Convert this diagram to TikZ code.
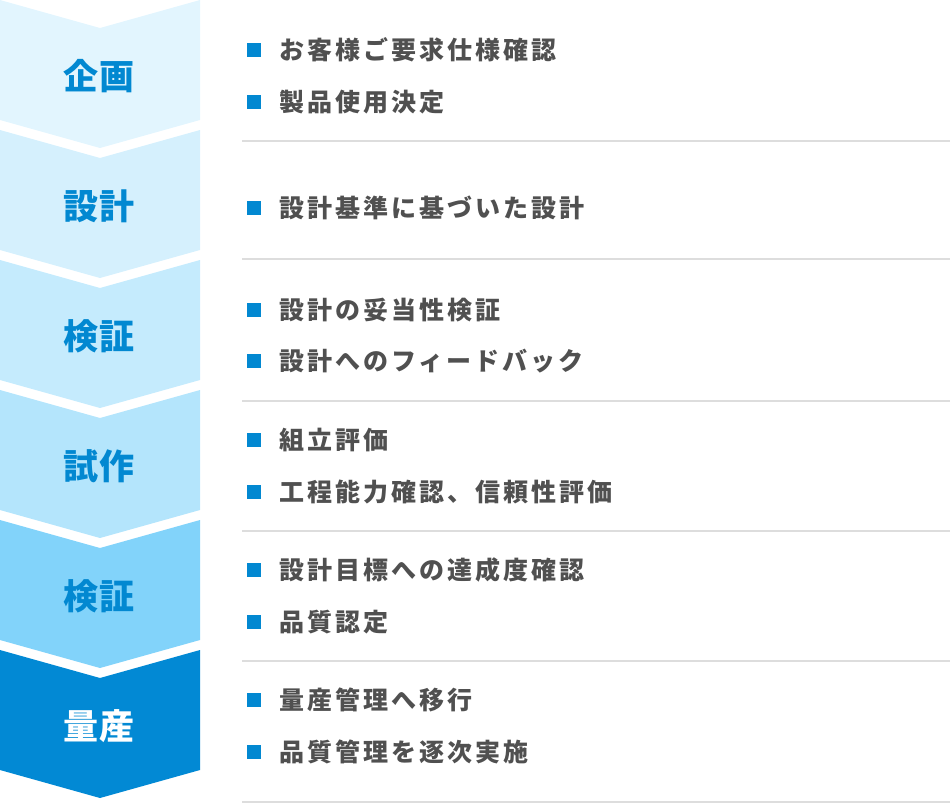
\documentclass[tikz,border=0pt]{standalone}
\usepackage{fontspec}
\newfontfamily\stepfont{Noto Sans CJK JP}[LetterSpace=3]
\newfontfamily\itemfont{Noto Sans CJK JP}[LetterSpace=12]

\definecolor{stepA}{HTML}{E2F5FE}
\definecolor{stepB}{HTML}{D5F0FD}
\definecolor{stepC}{HTML}{C5EBFD}
\definecolor{stepD}{HTML}{B4E5FC}
\definecolor{stepE}{HTML}{82D3FA}
\definecolor{stepF}{HTML}{0289D4}
\definecolor{accent}{HTML}{0288D1}
\definecolor{itemgray}{HTML}{505050}
\definecolor{rulegray}{HTML}{DDDDDD}

\tikzset{
    steplabel/.style={inner sep=0pt, text=accent, font=\stepfont\bfseries\fontsize{35}{35}\selectfont},
    item/.style={inner sep=0pt, anchor=west, text=itemgray, font=\itemfont\bfseries\fontsize{25}{25}\selectfont},
    bullet/.style={inner sep=0pt, minimum size=14pt, fill=accent},
    separator/.style={rulegray, line width=2pt},
}

\begin{document}
\begin{tikzpicture}[x=1pt, y=-1pt]

    \def\w{200}         % Width of the step column
    \def\h{120}         % Height of one step at its sides
    \def\tip{28}        % Depth of the chevron point
    \def\pitch{130}     % Distance from one step to the next
    \def\bx{253.5}      % Centre of the bullets
    \def\tx{279}        % Left edge of the item texts

    \useasboundingbox (0,0) rectangle (950,804);

    % Chevrons, lightest at the top
    \foreach \i/\col in {0/stepA, 1/stepB, 2/stepC, 3/stepD, 4/stepE, 5/stepF} {
        \fill[\col] (0,\i*\pitch) -- ++(\w/2,\tip) -- ++(\w/2,-\tip) -- ++(0,\h)
            -- ++(-\w/2,\tip) -- ++(-\w/2,-\tip) -- cycle;
    }

    % Step names
    \node[steplabel] (plan)    at (99,76)  {企画};
    \node[steplabel] (design)  at (99,206) {設計};
    \node[steplabel] (verify)  at (99,336) {検証};
    \node[steplabel] (proto)   at (99,466) {試作};
    \node[steplabel] (check)   at (99,596) {検証};
    \node[steplabel, text=white] (mass) at (99,726) {量産};

    % Items of each step
    \node[bullet] (planAb) at (\bx,50)  {};  \node[item] (planA) at (\tx,50)  {お客様ご要求仕様確認};
    \node[bullet] (planBb) at (\bx,102) {};  \node[item] (planB) at (\tx,102) {製品使用決定};

    \node[bullet] (designAb) at (\bx,208) {};  \node[item] (designA) at (\tx,208) {設計基準に基づいた設計};

    \node[bullet] (verifyAb) at (\bx,310) {};  \node[item] (verifyA) at (\tx,310) {設計の妥当性検証};
    \node[bullet] (verifyBb) at (\bx,361) {};  \node[item] (verifyB) at (\tx,361) {設計へのフィードバック};

    \node[bullet] (protoAb) at (\bx,440) {};  \node[item] (protoA) at (\tx,440) {組立評価};
    \node[bullet] (protoBb) at (\bx,492) {};  \node[item] (protoB) at (\tx,492) {工程能力確認、信頼性評価};

    \node[bullet] (checkAb) at (\bx,570) {};  \node[item] (checkA) at (\tx,570) {設計目標への達成度確認};
    \node[bullet] (checkBb) at (\bx,622) {};  \node[item] (checkB) at (\tx,622) {品質認定};

    \node[bullet] (massAb) at (\bx,700) {};  \node[item] (massA) at (\tx,700) {量産管理へ移行};
    \node[bullet] (massBb) at (\bx,752) {};  \node[item] (massB) at (\tx,752) {品質管理を逐次実施};

    % Rules between the groups
    \foreach \y in {141, 259, 401, 531, 661, 802} {
        \draw[separator] (242,\y) -- (950,\y);
    }

\end{tikzpicture}
\end{document}
